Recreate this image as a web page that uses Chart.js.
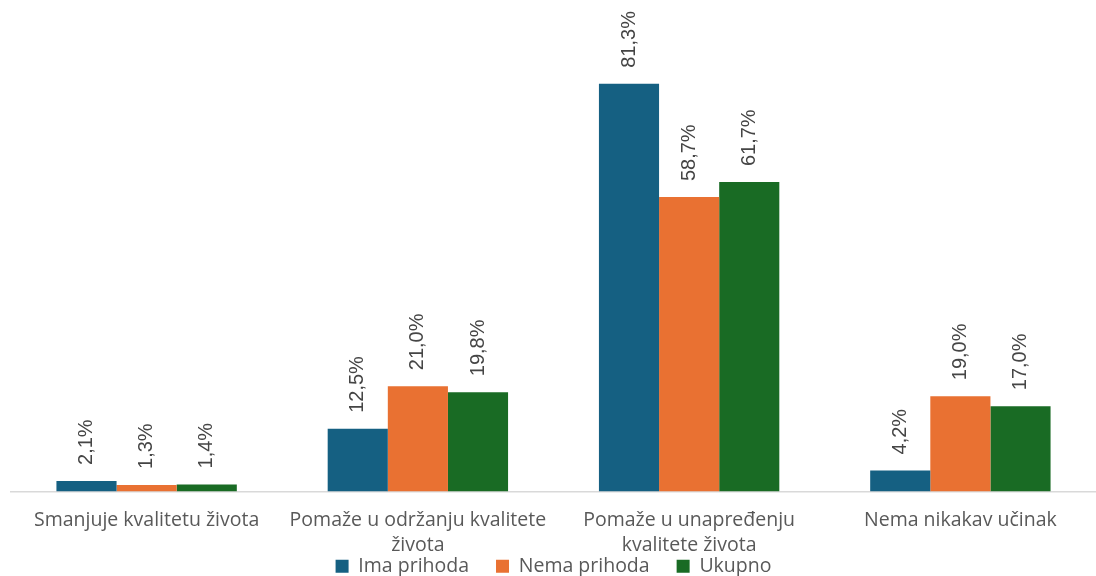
<!DOCTYPE html>
<html>
<head>
<meta charset="utf-8">
<script src="https://cdn.jsdelivr.net/npm/chart.js@4/dist/chart.umd.min.js"></script>
<style>
  body { margin: 0; background: #fff; }
  #wrap { width: 1096px; height: 576px; }
</style>
</head>
<body>
<div id="wrap"><canvas id="grafico"></canvas></div>
<script>
// podaci
const kategorije = [
  'Smanjuje kvalitetu života',
  ['Pomaže u održanju kvalitete', 'života'],
  ['Pomaže u unapređenju', 'kvalitete života'],
  'Nema nikakav učinak'
];
const imaPrihoda = [2.1, 12.5, 81.3, 4.2];
const nemaPrihoda = [1.3, 21.0, 58.7, 19.0];
const ukupno = [1.4, 19.8, 61.7, 17.0];

const FONT = '"Open Sans", sans-serif';

// oznake vrijednosti okrenute za 90 stupnjeva
const oznakePlugin = {
  id: 'oznake',
  afterDatasetsDraw(chart) {
    const ctx = chart.ctx;
    ctx.save();
    ctx.font = '20px "Liberation Sans", sans-serif';
    ctx.fillStyle = '#454545';
    ctx.textAlign = 'left';
    ctx.textBaseline = 'middle';
    chart.data.datasets.forEach((ds, i) => {
      chart.getDatasetMeta(i).data.forEach((bar, j) => {
        const txt = ds.data[j].toFixed(1).replace('.', ',') + '%';
        ctx.save();
        ctx.translate(bar.x, bar.y - 16);
        ctx.rotate(-Math.PI / 2);
        ctx.fillText(txt, 0, 0);
        ctx.restore();
      });
    });
    ctx.restore();
  }
};

new Chart(document.getElementById('grafico'), {
  type: 'bar',
  data: {
    labels: kategorije,
    datasets: [
      { label: 'Ima prihoda', data: imaPrihoda, backgroundColor: '#156082' },
      { label: 'Nema prihoda', data: nemaPrihoda, backgroundColor: '#E97132' },
      { label: 'Ukupno', data: ukupno, backgroundColor: '#196B24' }
    ]
  },
  options: {
    responsive: true,
    maintainAspectRatio: false,
    animation: false,
    layout: { padding: { left: 11, right: 0, top: 0, bottom: -10 } },
    datasets: { bar: { categoryPercentage: 0.665, barPercentage: 1 } },
    plugins: {
      legend: {
        position: 'bottom',
        labels: { font: { family: FONT, size: 19.5 }, color: '#595959', boxWidth: 13, boxHeight: 13, padding: 27 }
      },
      tooltip: { enabled: false }
    },
    scales: {
      x: {
        grid: { display: false },
        border: { display: true, color: '#d9d9d9', width: 1.5 },
        ticks: { font: { family: FONT, size: 19.5, lineHeight: 1.3 }, color: '#595959', padding: 8, maxRotation: 0 },
        afterFit(scale) {
          // natpisi u dva reda smiju prijeći preko legende
          scale.height = 38;
          scale._computeLabelArea = () => null;
        }
      },
      y: {
        display: false,
        min: 0,
        max: 98
      }
    }
  },
  plugins: [oznakePlugin]
});
</script>
</body>
</html>
